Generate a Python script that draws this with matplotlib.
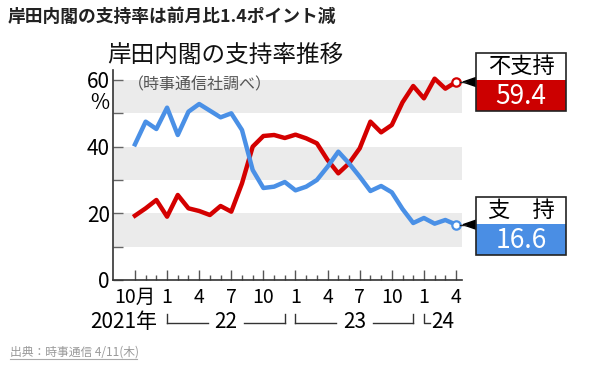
import matplotlib
matplotlib.use("Agg")
import matplotlib.pyplot as plt
from matplotlib.patches import Rectangle, Polygon
from matplotlib.lines import Line2D
from matplotlib.transforms import Affine2D, blended_transform_factory

plt.rcParams['font.family'] = ['Noto Sans CJK JP', 'DejaVu Sans']

# monthly Jiji poll, Oct 2021 .. Apr 2024 (%)
months = list(range(31))
support = [40.7, 47.5, 45.3, 51.7, 43.5, 50.5, 52.8, 50.8, 48.8, 50.0,
           45.0, 33.0, 27.6, 28.0, 29.4, 26.9, 28.0, 30.0, 34.0, 38.5,
           35.0, 31.0, 26.7, 28.2, 26.3, 21.3, 17.1, 18.6, 16.9, 18.0, 16.6]
nonsupport = [19.3, 21.5, 24.0, 19.0, 25.5, 21.5, 20.7, 19.5, 22.2, 20.5,
              29.0, 40.0, 43.2, 43.5, 42.6, 43.6, 42.5, 41.0, 36.0, 32.0,
              35.0, 39.5, 47.5, 44.3, 46.5, 53.3, 58.2, 54.5, 60.4, 57.4, 59.4]
tick_labels = ["10月", "1", "4", "7", "10", "1", "4", "7", "10", "1", "4"]
year_spans = [("22", 3, 14), ("23", 15, 26)]

RED = "#d40000"
BLUE = "#4a90e6"
W, H = 600, 366

fig = plt.figure(figsize=(W / 100, H / 100), dpi=100)
# top-left pixel coordinates helper
pix = Affine2D().scale(1 / 100, -1 / 100).translate(0, H / 100) + fig.dpi_scale_trans

ax = fig.add_axes([112.7 / W, 1 - 280 / H, (461.7 - 112.7) / W, 210 / H])
ax.set_xlim(-2.08, 30.53)
ax.set_ylim(0, 63)

for lo in (10, 30, 50):
    ax.axhspan(lo, lo + 10, color="#ebebeb", lw=0, zorder=0)

ax.plot(months, nonsupport, color=RED, lw=3.2, zorder=3)
ax.plot(months, support, color=BLUE, lw=3.2, zorder=3)
ax.plot(months[-1], nonsupport[-1], 'o', ms=6, mfc="white", mec=RED, mew=1.6, zorder=4)
ax.plot(months[-1], support[-1], 'o', ms=6, mfc="white", mec=BLUE, mew=1.6, zorder=4)

for s in ("top", "right"):
    ax.spines[s].set_visible(False)
for s in ("left", "bottom"):
    ax.spines[s].set_color("#333333")
    ax.spines[s].set_linewidth(1.2)

ax.set_yticks([0, 20, 40, 60])
ax.set_yticks([10, 30, 50], minor=True)
ax.tick_params(axis="y", which="both", direction="in", length=7, width=1,
               color="#666666", labelsize=15, pad=2)
ax.set_xticks(months[::3])
ax.set_xticklabels(tick_labels)
ax.set_xticks(months, minor=True)
ax.tick_params(axis="x", which="major", direction="in", length=7, width=1,
               color="#555555", labelsize=14, pad=5)
ax.tick_params(axis="x", which="minor", direction="in", length=3.5, width=1,
               color="#555555")

# year row under the month labels
bt = blended_transform_factory(ax.transData, pix)
fig.text(157, 322, "2021年", transform=pix, ha="right", va="center", fontsize=15)
for lab, a, b in year_spans:
    mid = (a + b) / 2
    for x0, x1 in ((a, mid - 1.7), (mid + 1.7, b)):
        ax.add_line(Line2D([x0, x1], [322.7, 322.7], transform=bt, color="#333", lw=1, clip_on=False))
    for x in (a, b):
        ax.add_line(Line2D([x, x], [314, 322.7], transform=bt, color="#333", lw=1, clip_on=False))
    ax.text(mid, 322, lab, transform=bt, ha="center", va="center", fontsize=15)
ax.add_line(Line2D([27, 27, 27.6], [314, 322.7, 322.7], transform=bt, color="#333", lw=1, clip_on=False))
ax.text(27.7, 322, "24", transform=bt, ha="left", va="center", fontsize=15)

# titles
fig.text(8, 17, "岸田内閣の支持率は前月比1.4ポイント減", transform=pix, ha="left",
         va="center", fontsize=12.8, fontweight="bold", color="#222")
fig.text(107, 55, "岸田内閣の支持率推移", transform=pix, ha="left", va="center",
         fontsize=17, color="#111")
fig.text(128, 85, "（時事通信社調べ）", transform=pix, ha="left", va="center",
         fontsize=11.5, color="#555")
fig.text(109, 103, "%", transform=pix, ha="right", va="center", fontsize=15)

# end labels
def end_box(series, top, head, value, color):
    _, yd = ax.transData.transform((months[-1], series[-1]))
    yp = H - yd * 100 / fig.dpi
    fig.add_artist(Line2D([460, 466], [yp, yp], transform=pix, color="#222", lw=1))
    fig.add_artist(Polygon([[463, yp], [476, yp - 4.5], [476, yp + 4.5]], closed=True,
                           transform=pix, color="black"))
    fig.add_artist(Rectangle((476, top), 90, 27, transform=pix, fc="white", ec="none"))
    fig.add_artist(Rectangle((476, top + 27), 90, 31, transform=pix, fc=color, ec="none"))
    fig.add_artist(Rectangle((476, top), 90, 58, transform=pix, fc="none", ec="#222", lw=1.2))
    fig.text(521, top + 13.5, head, transform=pix, ha="center", va="center", fontsize=16)
    fig.text(521, top + 43, value, transform=pix, ha="center", va="center",
             fontsize=19, color="white")

end_box(nonsupport, 53, "不支持", f"{nonsupport[-1]:.1f}", "#cc0000")
end_box(support, 197, "支　持", f"{support[-1]:.1f}", "#4a8ee4")

# source footer
fig.text(10, 352, "出典：時事通信 4/11(木)", transform=pix, ha="left", va="center",
         fontsize=8.5, color="#999")
fig.add_artist(Line2D([10, 137], [358.5, 358.5], transform=pix, color="#aaa", lw=0.8))

fig.savefig("out.png", dpi=100)
